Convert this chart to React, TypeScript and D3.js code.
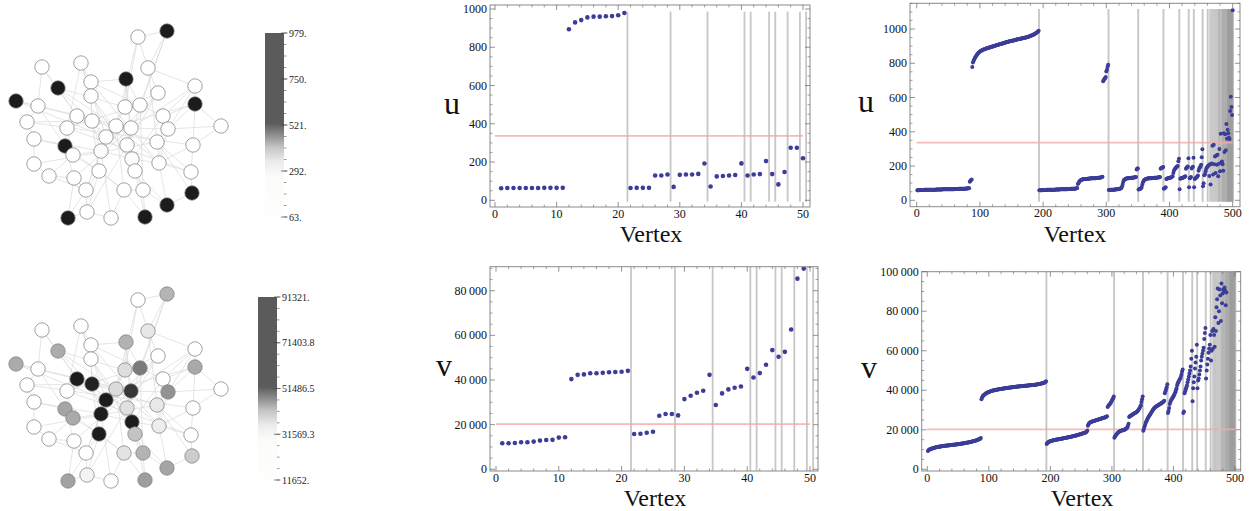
import React from 'react';
import * as d3 from 'd3';

// ---------- data: 50-vertex graph ----------
const uSmall = [63,64,64,64,64,64,64,65,65,65,65,
  894,930,942,956,960,960,962,963,967,979,
  64,65,65,65,130,130,135,70,133,135,135,138,192,72,125,127,130,132,193,130,135,137,205,137,83,148,275,275,220];
const vSmall = [11652,11700,11750,12100,12150,12400,12850,13150,13200,14200,14350,
  40400,42300,42500,43000,43050,43200,43500,43550,43700,44100,
  15800,15950,16400,16850,24000,24750,24750,24150,31450,32950,34300,35200,42300,28800,34000,35800,36500,37100,45000,41150,43100,46800,53400,50400,52600,62600,85400,89900,91321];
const smallBreaks = [21.5,28.5,34.5,40.5,41.5,44.5,45.5,47.5,49.5,50.5];

// ---------- data: 500-vertex graph ----------
const uLarge = [
  58,59,59,59,60,60,60,60,60,60, 60,61,61,61,61,61,61,61,61,61, 62,62,62,62,62,62,62,62,62,62,
  63,63,63,63,63,63,63,63,63,63, 64,64,64,64,64,64,64,64,64,64, 65,65,65,65,65,65,65,65,65,66,
  66,66,66,66,66,66,67,67,67,67, 67,67,68,68,68,68,68,69,69,69, 70,70,71,
  108,114,118,122, 778,
  805,815,822,830,836,842,848,853,858,862,866,
  869,871,873,875,877,879,880,882,883,885, 886,887,888,890,891,892,893,894,896,897,
  898,899,900,901,902,903,905,906,907,908, 909,911,912,913,914,915,916,917,918,919,
  921,922,923,924,925,926,927,928,929,930, 931,932,932,933,934,935,936,937,938,939,
  940,940,941,942,943,944,945,946,946,947, 948,949,950,951,952,953,954,955,957,958,
  960,961,963,964,966,968,970,972,974,976, 979,982,986,990,
  58,58,59,59,59,59,60,60,60,60, 60,60,61,61,61,61,61,61,61,62, 62,62,62,62,62,62,63,63,63,63,
  63,63,63,64,64,64,64,64,64,65, 65,65,65,65,65,66,66,66,66,66, 67,67,67,67,68,68,68,69,69,70,72,
  95,100,108,112,115,118,120,
  122,123,123,124,124,125,125,125,126,126, 126,127,127,127,128,128,128,128,129,129,
  129,129,130,130,130,131,131,132,132,133, 134,136,138,
  695,702,708,712,720,752,762,780,792,
  60,60,61,61,61,62,62,62,62,63,63,63,64,64,65,65,66,67,68,70,72,
  82,95,110,118,122,125,
  126,127,128,128,129,129,130,130,131,131,132,132,133,133,134,135,136,
  180,185,186,
  63,65,66,68,70,78,92,
  105,113,118,121,123,125,126,
  127,127,128,128,128,129,129,129,130,130,130,131,131,131,132,132,133,133,134,135,136,
  184,188,190,192,194,
  68,70,72,76,
  124,126,128,129,130,131,132,133,135,137,140,
  160,172,180,186,190,194,197,200,
  228,242,
  64,
  126,128,129,130,131,133,135,137,140,
  184,190,194,198,245,
  76, 128,132,136, 186,192,196, 248,
  76, 125,129,132,135,139,145, 172,184,192,198,208, 252,298,
  82,100,146,152,168,182,190,196,
  200,205,142,210,92,210,215,318,150,324, 210,255,160,262,208,266,140,214,300,170,
  388,220,226,210,172,392,282,385,292,446, 360,412,392,365,358,522,605,545,498,1110
];
const vLarge = [
  9300,9600,9900,10100,10200,10350,10450,10550,10650,10750,
  10850,10950,11050,11100,11200,11250,11300,11400,11450,11500,
  11550,11600,11650,11700,11750,11800,11850,11880,11920,11950,
  12000,12030,12070,12100,12150,12180,12220,12250,12300,12330,
  12370,12400,12440,12480,12520,12560,12600,12640,12680,12720,
  12760,12800,12850,12900,12950,13000,13050,13100,13150,13200,
  13260,13320,13380,13440,13500,13560,13620,13690,13760,13830,
  13900,13980,14060,14140,14220,14300,14390,14480,14570,14670,
  14780,14900,15020,15150,15300,15500,15800,
  35500,36300,36900,37300,37600,37900,38100,38300,38500,38700,38900,39000,
  39150,39300,39400,39500,39600,39700,39800,39880,39960,40040,
  40110,40180,40250,40310,40370,40430,40490,40550,40600,40650,
  40700,40750,40800,40850,40900,40950,41000,41050,41100,41150,
  41200,41240,41280,41320,41360,41400,41440,41480,41520,41560,
  41600,41640,41680,41720,41760,41800,41840,41880,41920,41960,
  42000,42030,42060,42090,42120,42150,42180,42210,42240,42270,
  42300,42330,42360,42390,42420,42450,42480,42510,42540,42570,
  42600,42640,42680,42720,42760,42800,42850,42900,42950,43000,
  43060,43120,43180,43240,43300,43380,43460,43540,43620,43720,
  43850,44000,44200,44500,
  12800,13300,13600,13800,14000,14150,14250,14350,14450,14550,
  14620,14690,14760,14830,14900,14960,15020,15080,15140,15200,
  15260,15320,15380,15440,15500,15560,15620,15680,15740,15800,
  15860,15920,15980,16040,16100,16170,16240,16310,16380,16450,
  16520,16600,16680,16760,16840,16920,17000,17080,17160,17250,
  17340,17430,17520,17610,17700,17800,17900,18000,18100,18200,
  18300,18400,18500,18650,18800,19100,19600,
  22000,22800,23300,23600,23800,24000,24100,24200,24300,24400,
  24500,24600,24700,24800,24900,25000,25100,25200,25300,25400,
  25500,25600,25700,25800,25900,26000,26100,26200,26300,26400,
  26600,26800,
  31500,32000,32400,32800,33200,33600,34200,34800,35400,36000,36800,
  16000,16600,17100,17500,17900,18300,18600,18900,19100,19300,
  19400,19500,19600,19700,19800,19900,20000,20100,20300,20500,
  20800,21300,22000,23000,
  26500,26800,27000,27200,27400,27600,27800,28000,28200,28400,
  28600,28800,29000,29300,29600,30000,30500,31000,31600,32400,34000,35500,36800,
  19500,20500,21500,22500,23500,24300,25000,25600,26200,26700,
  27200,27700,28200,28700,29200,29700,30200,30600,31000,31300,
  31600,31800,32000,32200,32400,32600,32800,33000,33200,33400,
  33600,33800,34000,34300,34700,38500,39500,40500,41500,43000,
  28500,29500,31000,33000,34000,34800,35400,36000,36500,37000,
  37600,38200,39000,40000,41000,42500,43500,44200,44800,45400,
  46000,46800,48000,49500,50500,
  28500,29200,38500,39500,40500,41500,42500,44000,45500,47000,48500,50000,52000,56000,60000,
  34500,41000,44000,47000,51000,54000,57000,63000,
  41000,45000,46000,48000,50000,52000,55000,57000,58500,60000,61500,66000,69000,71500,
  46000,50000,53000,56000,59000,61000,63000,68000,
  55000,60000,70000,61000,71000,68000,62000,77000,70000,82000,
  86000,91500,74000,80000,91000,88000,75000,94000,84000,89000,
  91000,90000,92000,90500,83000,89500,
  104000,108000,112000,116000,121000,126000,131000,137000,143000,150000,158000,166000,175000,185000
];
const largeBreaks = [193.5,303.5,350.5,390.5,415.5,430.5,438.5,452.5,460.5,
  464.5,467.5,470.5,473.5,476.5,478.5,480.5,482.5,484.5,485.5,487.5,488.5,
  490.5,491.5,492.5,493.5,494.5,495.5,496.5,497.5,498.5,499.5,500.5];
const uThreshold = 337;
const vThreshold = 20200;

// ---------- graph layout (node coordinates) and edges ----------
const nodeX = [138,167,42,81,148,91,126,58,195,158,91,16,195,38,125,140,77,163,27,92,116,131,67,168,221,106,34,65,127,157,193,73,101,132,34,159,49,99,135,74,191,86,124,143,192,167,87,68,111,145];
const nodeY = [37,31,67,63,68,82,79,88,86,93,96,101,104,106,107,105,116,116,122,121,126,128,128,129,126,137,139,146,145,142,145,155,151,159,164,163,176,171,171,178,172,190,190,190,193,205,212,218,218,217];
const nodeVertex = [22,13,1,2,32,3,14,15,23,24,4,16,17,5,38,43,44,25,6,46,39,45,7,40,26,47,8,18,37,36,27,42,48,49,9,31,10,50,41,11,28,29,33,34,12,19,30,20,35,21];
const edges: [number, number][] = [
  [1,2],[1,5],[1,21],[2,5],[2,16],[2,29],[3,8],[3,14],[4,11],[4,6],[4,26],
  [5,9],[5,10],[5,30],[6,11],[6,7],[6,20],[6,36],[7,15],[7,16],[7,34],[7,22],
  [8,17],[8,15],[8,21],[9,13],[9,18],[9,24],[10,15],[10,22],[10,33],
  [11,20],[11,29],[11,39],[12,14],[12,17],[12,26],[13,25],[13,18],[13,24],[13,31],[13,21],
  [14,19],[14,22],[14,28],[15,21],[15,26],[16,18],[16,23],[16,44],[17,23],[17,30],[17,29],
  [18,24],[18,34],[18,36],[19,20],[19,27],[19,31],[20,22],[20,33],[20,38],
  [21,22],[21,36],[21,43],[22,29],[22,24],[22,40],[23,32],[23,28],[23,41],
  [24,30],[24,36],[24,25],[25,31],[26,33],[26,34],[26,42],[27,28],[27,35],
  [28,32],[28,43],[28,40],[29,39],[29,34],[29,47],[30,36],[30,41],[30,45],
  [31,41],[31,36],[32,37],[32,33],[32,38],[33,34],[33,42],[33,49],
  [34,39],[34,36],[34,44],[35,37],[35,30],[36,41],[36,46],[37,40],[37,42],
  [38,43],[38,47],[38,42],[39,44],[39,50],[39,46],[40,42],[40,48],[41,45],
  [42,48],[42,47],[43,49],[43,44],[43,50],[44,50],[44,46],[45,46],[47,48],[47,49],
  [3,17],[8,26],[27,33],[10,29],[1,15],[4,23],[6,16],[9,22]
];

const SERIF = "'Liberation Serif', 'DejaVu Serif', serif";
const PT = '#3c3c99';

const shade = d3.scaleLinear<number>()
  .domain([0, 0.22, 0.3, 0.36, 0.4, 0.44, 0.48, 0.52, 1])
  .range([255, 255, 225, 205, 165, 125, 60, 28, 28])
  .clamp(true);

function fmtBar(n: number) {
  return Number.isInteger(n) ? `${n}.` : n.toFixed(1);
}
function fmtGroup(n: number) {
  return d3.format(',')(n).replace(/,/g, '\u2009');
}

type GraphProps = { values: number[]; dy: number; bar: { x: number; y0: number; y1: number; w: number; lx: number }; id: string };

function Graph({ values, dy, bar, id }: GraphProps) {
  const ext = d3.extent(values) as [number, number];
  const t = (v: number) => (v - ext[0]) / (ext[1] - ext[0]);
  const gx = d3.scaleLinear().domain([0, 1]).range([0, 1]);
  const gy = d3.scaleLinear().domain([0, 1]).range([dy, dy + 1]);
  const barScale = d3.scaleLinear().domain(ext).range([bar.y1, bar.y0]);
  const majors = d3.range(5).map(i => ext[0] + (ext[1] - ext[0]) * i / 4);
  const minors = d3.range(17).map(i => ext[0] + (ext[1] - ext[0]) * i / 16);
  const stops: [number, string][] = [[0, '#5b5b5b'], [0.49, '#5b5b5b'], [0.55, '#8a8a8a'], [0.62, '#c4c4c4'], [0.7, '#ececec'], [0.78, '#fbfbf9'], [1, '#fefefc']];
  return (
    <g>
      <defs>
        <linearGradient id={id} x1="0" y1="0" x2="0" y2="1">
          {stops.map(([o, c], i) => <stop key={i} offset={o} stopColor={c} />)}
        </linearGradient>
      </defs>
      {edges.map(([a, b], i) => (
        <line key={i} x1={gx(nodeX[a - 1])} y1={gy(nodeY[a - 1])} x2={gx(nodeX[b - 1])} y2={gy(nodeY[b - 1])}
          stroke="#dadada" strokeWidth={0.7} />
      ))}
      {nodeX.map((x, i) => {
        const g = Math.round(shade(t(values[nodeVertex[i] - 1])));
        return <circle key={i} cx={gx(x)} cy={gy(nodeY[i])} r={7.2} fill={d3.rgb(g, g, g).toString()} stroke="#7a7a7a" strokeWidth={0.7} />;
      })}
      <rect x={bar.x} y={bar.y0} width={bar.w} height={bar.y1 - bar.y0} fill={`url(#${id})`} />
      {minors.map((m, i) => (
        <line key={'m' + i} x1={bar.x + bar.w} x2={bar.x + bar.w + 2.5} y1={barScale(m)} y2={barScale(m)} stroke="#555" strokeWidth={0.6} />
      ))}
      {majors.map((m, i) => (
        <g key={'M' + i}>
          <line x1={bar.x + bar.w - 3} x2={bar.x + bar.w + 3.5} y1={barScale(m)} y2={barScale(m)} stroke="#444" strokeWidth={0.7} />
          <text x={bar.lx} y={barScale(m) + 3.5} fontFamily={SERIF} fontSize={10} fill="#222">{fmtBar(+m.toFixed(2))}</text>
        </g>
      ))}
    </g>
  );
}

type PanelProps = {
  id: string; values: number[]; breaks: number[]; threshold: number;
  frame: [number, number, number, number];
  xRange: [number, number]; xMax: number;
  yDom: [number, number]; yRange: [number, number];
  xStep: number; xMinor: number; yStep: number; yMinor: number;
  fmt: (n: number) => string; label: string; labelPos: [number, number]; vertexPos: [number, number];
  breakSpan: [number, number]; r: number; breakW: number;
};

function Panel(p: PanelProps) {
  const [fx0, fy0, fx1, fy1] = p.frame;
  const x = d3.scaleLinear().domain([0, p.xMax]).range(p.xRange);
  const y = d3.scaleLinear().domain(p.yDom).range(p.yRange);
  const xlo = x.invert(fx0), xhi = x.invert(fx1);
  const ylo = y.invert(fy1), yhi = y.invert(fy0);
  const xMaj = d3.range(0, xhi + 1e-9, p.xStep);
  const yMaj = d3.range(0, yhi + 1e-9, p.yStep);
  const xMin = d3.range(Math.ceil(xlo / p.xMinor) * p.xMinor, xhi, p.xMinor).filter(v => Math.abs(v / p.xStep - Math.round(v / p.xStep)) > 1e-6);
  const yMin = d3.range(Math.ceil(ylo / p.yMinor) * p.yMinor, yhi, p.yMinor).filter(v => Math.abs(v / p.yStep - Math.round(v / p.yStep)) > 1e-6);
  const tc = '#666';
  return (
    <g>
      <defs>
        <clipPath id={'clip' + p.id}><rect x={fx0} y={fy0} width={fx1 - fx0} height={fy1 - fy0} /></clipPath>
      </defs>
      <g clipPath={`url(#clip${p.id})`}>
        {p.breaks.map((b, i) => (
          <line key={i} x1={x(b)} x2={x(b)} y1={p.breakSpan[0]} y2={p.breakSpan[1]} stroke="#8f8f8f" strokeOpacity={0.5} strokeWidth={p.breakW} />
        ))}
        <line x1={x(0)} x2={x(p.xMax)} y1={y(p.threshold)} y2={y(p.threshold)} stroke="#f4a9a9" strokeWidth={1.7} strokeOpacity={0.8} />
        {p.values.map((v, i) => <circle key={i} cx={x(i + 1)} cy={y(v)} r={p.r} fill={PT} />)}
      </g>
      <rect x={fx0} y={fy0} width={fx1 - fx0} height={fy1 - fy0} fill="none" stroke="#8a8a8a" strokeWidth={1} />
      {xMaj.map((v, i) => (
        <g key={'xM' + i}>
          <line x1={x(v)} x2={x(v)} y1={fy1} y2={fy1 - 5} stroke={tc} strokeWidth={0.7} />
          <line x1={x(v)} x2={x(v)} y1={fy0} y2={fy0 + 5} stroke={tc} strokeWidth={0.7} />
          <text x={x(v)} y={fy1 + 10.5} textAnchor="middle" fontFamily={SERIF} fontSize={12} fill="#111">{v}</text>
        </g>
      ))}
      {xMin.map((v, i) => (
        <g key={'xm' + i}>
          <line x1={x(v)} x2={x(v)} y1={fy1} y2={fy1 - 2.5} stroke={tc} strokeWidth={0.6} />
          <line x1={x(v)} x2={x(v)} y1={fy0} y2={fy0 + 2.5} stroke={tc} strokeWidth={0.6} />
        </g>
      ))}
      {yMaj.map((v, i) => (
        <g key={'yM' + i}>
          <line x1={fx0} x2={fx0 + 5} y1={y(v)} y2={y(v)} stroke={tc} strokeWidth={0.7} />
          <line x1={fx1} x2={fx1 - 5} y1={y(v)} y2={y(v)} stroke={tc} strokeWidth={0.7} />
          <text x={fx0 - 3} y={y(v) + 4} textAnchor="end" fontFamily={SERIF} fontSize={12} fill="#111">{p.fmt(v)}</text>
        </g>
      ))}
      {yMin.map((v, i) => (
        <g key={'ym' + i}>
          <line x1={fx0} x2={fx0 + 2.5} y1={y(v)} y2={y(v)} stroke={tc} strokeWidth={0.6} />
          <line x1={fx1} x2={fx1 - 2.5} y1={y(v)} y2={y(v)} stroke={tc} strokeWidth={0.6} />
        </g>
      ))}
      <text x={p.labelPos[0]} y={p.labelPos[1]} textAnchor="middle" fontFamily={SERIF} fontSize={32} fill="#111">{p.label}</text>
      <text x={p.vertexPos[0]} y={p.vertexPos[1]} textAnchor="middle" fontFamily={SERIF} fontSize={24} fill="#111">Vertex</text>
    </g>
  );
}

export default function App() {
  const plain = (n: number) => String(n);
  return (
    <svg width={1260} height={511} style={{ position: 'absolute', left: 0, top: 0, background: '#fff' }}>
      <rect width={1260} height={511} fill="#fff" />
      <Graph id="gu" values={uSmall} dy={0} bar={{ x: 265, y0: 33, y1: 217, w: 19, lx: 289 }} />
      <Graph id="gv" values={vSmall} dy={263} bar={{ x: 258, y0: 297, y1: 480, w: 19, lx: 282 }} />
      <Panel id="tm" values={uSmall} breaks={smallBreaks} threshold={uThreshold}
        frame={[490, 5, 810, 207]} xRange={[495, 803]} xMax={50}
        yDom={[0, 1000]} yRange={[200.3, 9]} xStep={10} xMinor={2} yStep={200} yMinor={50}
        fmt={plain} label="u" labelPos={[452, 114]} vertexPos={[651, 242]} breakSpan={[11.7, 201.7]} r={2.3} breakW={1.8} />
      <Panel id="bm" values={vSmall} breaks={smallBreaks} threshold={vThreshold}
        frame={[490, 266.7, 818, 471]} xRange={[496, 810]} xMax={50}
        yDom={[0, 80000]} yRange={[469.3, 290.7]} xStep={10} xMinor={2} yStep={20000} yMinor={5000}
        fmt={fmtGroup} label="v" labelPos={[444, 376]} vertexPos={[655, 506]} breakSpan={[266.7, 471]} r={2.3} breakW={1.8} />
      <Panel id="tr" values={uLarge} breaks={largeBreaks} threshold={uThreshold}
        frame={[910, 3.3, 1240, 206.7]} xRange={[916.7, 1232.7]} xMax={500}
        yDom={[0, 1000]} yRange={[200.3, 29]} xStep={100} xMinor={20} yStep={200} yMinor={50}
        fmt={plain} label="u" labelPos={[866, 112]} vertexPos={[1075, 242]} breakSpan={[9, 201.7]} r={2} breakW={1.9} />
      <Panel id="br" values={vLarge} breaks={largeBreaks} threshold={vThreshold}
        frame={[921.7, 271.7, 1240.7, 471]} xRange={[927.3, 1235]} xMax={500}
        yDom={[0, 100000]} yRange={[469.3, 271.7]} xStep={100} xMinor={20} yStep={20000} yMinor={5000}
        fmt={fmtGroup} label="v" labelPos={[869, 378]} vertexPos={[1082, 506]} breakSpan={[271.7, 471]} r={2} breakW={1.9} />
    </svg>
  );
}
